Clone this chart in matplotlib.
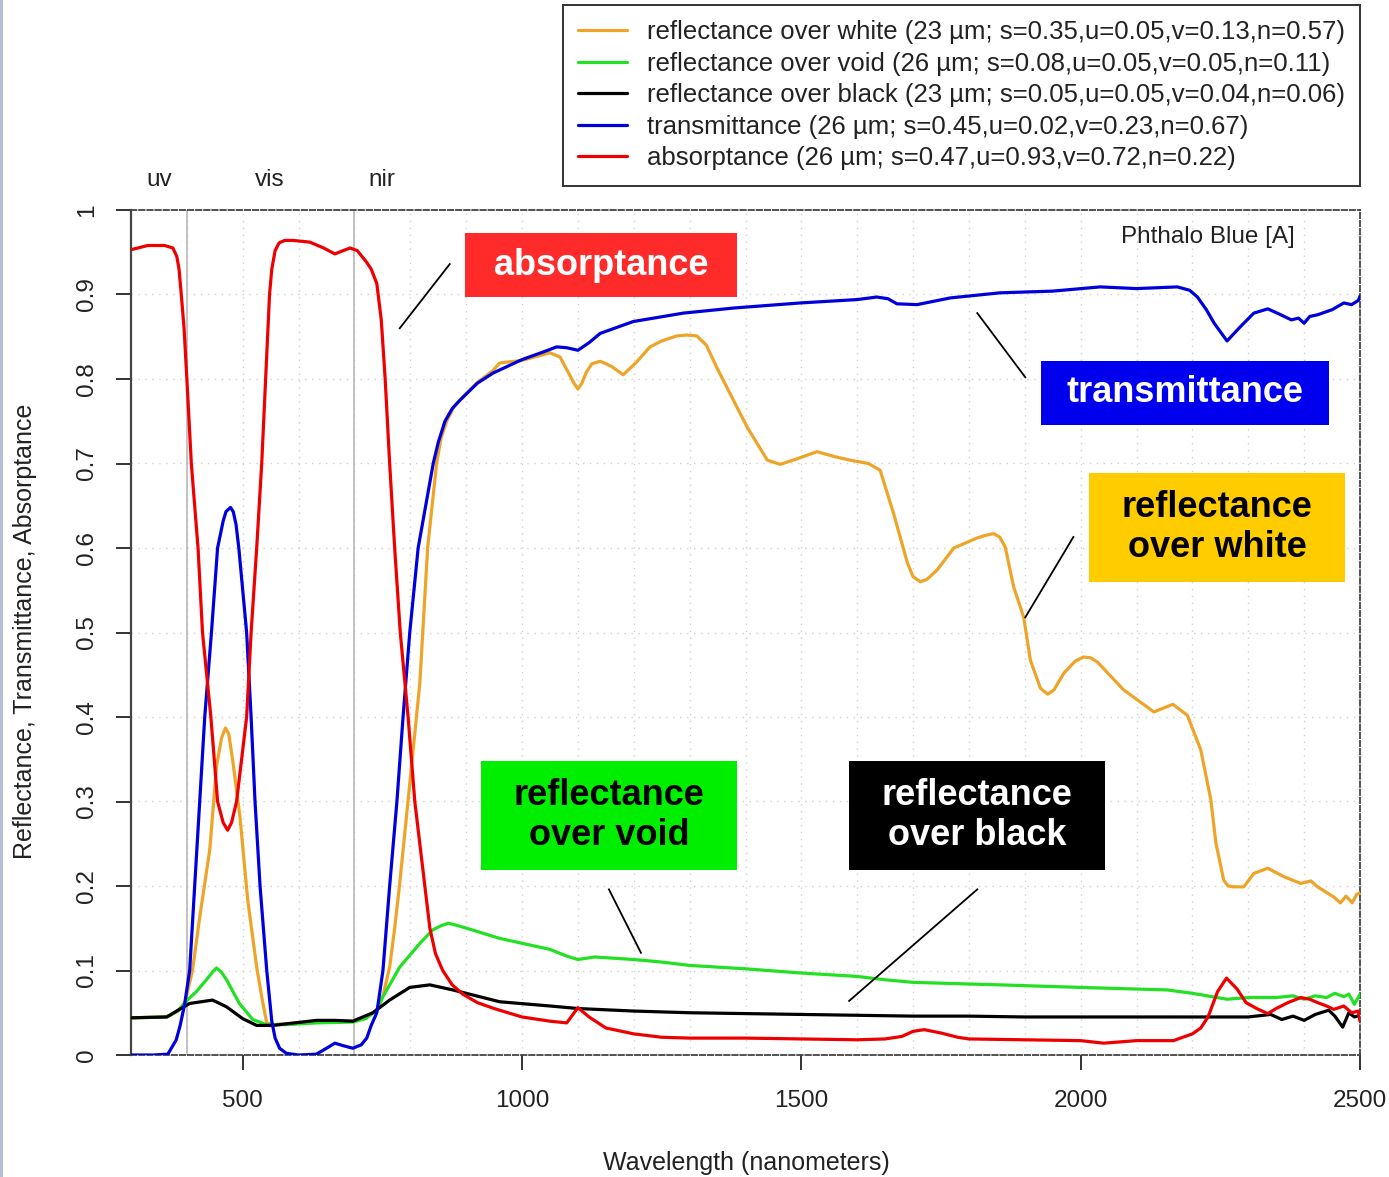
import numpy as np
from matplotlib import pyplot as plt
from matplotlib.patches import Rectangle

plt.rcParams['font.family'] = ['Liberation Sans', 'DejaVu Sans']

# reflectance over white (orange)
white_wl = [300, 364, 384, 396, 410, 423, 441, 453, 462, 469, 475, 482, 495, 509, 525, 535,
            543, 554, 600, 632, 697, 720, 740, 751, 763, 772, 781, 799, 817, 831, 847, 855,
            865, 878, 894, 920, 948, 960, 1000, 1050, 1068, 1085, 1093, 1100, 1107, 1115,
            1125, 1140, 1160, 1181, 1205, 1229, 1250, 1277, 1295, 1313, 1330, 1349, 1403,
            1439, 1462, 1490, 1528, 1560, 1587, 1620, 1641, 1665, 1690, 1700, 1713, 1725,
            1743, 1773, 1815, 1830, 1844, 1855, 1865, 1880, 1898, 1910, 1928, 1941, 1952,
            1970, 1990, 2005, 2018, 2030, 2077, 2131, 2165, 2191, 2215, 2233, 2242, 2256,
            2264, 2274, 2292, 2310, 2335, 2364, 2394, 2412, 2424, 2453, 2465, 2475, 2486,
            2494, 2500]
white_val = [0.044, 0.045, 0.052, 0.060, 0.100, 0.163, 0.243, 0.341, 0.375, 0.387, 0.380,
             0.349, 0.282, 0.183, 0.104, 0.065, 0.038, 0.036, 0.038, 0.040, 0.040, 0.045,
             0.053, 0.070, 0.104, 0.150, 0.203, 0.321, 0.440, 0.600, 0.700, 0.730, 0.750,
             0.767, 0.779, 0.796, 0.810, 0.819, 0.822, 0.831, 0.826, 0.805, 0.795, 0.788,
             0.795, 0.808, 0.818, 0.821, 0.815, 0.805, 0.820, 0.838, 0.845, 0.851, 0.852,
             0.851, 0.840, 0.813, 0.743, 0.704, 0.699, 0.705, 0.714, 0.708, 0.704, 0.700,
             0.692, 0.641, 0.582, 0.566, 0.560, 0.563, 0.574, 0.600, 0.612, 0.615, 0.617,
             0.613, 0.601, 0.554, 0.518, 0.467, 0.434, 0.427, 0.432, 0.452, 0.466, 0.471,
             0.470, 0.465, 0.432, 0.406, 0.415, 0.402, 0.361, 0.302, 0.251, 0.207, 0.200,
             0.199, 0.199, 0.215, 0.221, 0.211, 0.203, 0.206, 0.199, 0.187, 0.180, 0.188,
             0.180, 0.190, 0.192]

# reflectance over void (green)
void_wl = [300, 364, 384, 396, 417, 435, 447, 453, 462, 471, 494, 518, 542, 580, 632, 697,
           720, 740, 751, 781, 817, 840, 855, 868, 880, 901, 960, 1050, 1080, 1100, 1130,
           1200, 1250, 1300, 1400, 1500, 1600, 1650, 1700, 1800, 1856, 1950, 2050, 2155,
           2200, 2262, 2300, 2350, 2380, 2400, 2420, 2440, 2455, 2471, 2480, 2490, 2500]
void_val = [0.044, 0.045, 0.052, 0.062, 0.075, 0.089, 0.099, 0.103, 0.098, 0.089, 0.061,
            0.042, 0.036, 0.036, 0.038, 0.039, 0.043, 0.053, 0.069, 0.104, 0.132, 0.148,
            0.153, 0.156, 0.154, 0.150, 0.138, 0.125, 0.117, 0.113, 0.116, 0.113, 0.110,
            0.106, 0.102, 0.097, 0.093, 0.089, 0.086, 0.084, 0.083, 0.081, 0.079, 0.077,
            0.073, 0.066, 0.068, 0.068, 0.070, 0.066, 0.070, 0.068, 0.073, 0.069, 0.072,
            0.060, 0.072]

# reflectance over black (black)
black_wl = [300, 364, 384, 405, 446, 471, 500, 525, 554, 632, 665, 697, 733, 763, 799, 835,
            876, 960, 1050, 1100, 1200, 1300, 1400, 1500, 1600, 1700, 1800, 1900, 2000,
            2100, 2200, 2300, 2340, 2360, 2380, 2400, 2420, 2444, 2455, 2469, 2480, 2490, 2500]
black_val = [0.044, 0.045, 0.053, 0.061, 0.065, 0.057, 0.043, 0.035, 0.035, 0.041, 0.041,
             0.040, 0.050, 0.065, 0.080, 0.083, 0.077, 0.063, 0.058, 0.055, 0.052, 0.050,
             0.049, 0.048, 0.047, 0.046, 0.046, 0.045, 0.045, 0.045, 0.045, 0.045, 0.048,
             0.042, 0.046, 0.041, 0.048, 0.053, 0.046, 0.033, 0.050, 0.045, 0.047]

# transmittance (blue)
trans_wl = [300, 340, 366, 381, 388, 396, 405, 414, 423, 432, 444, 455, 465, 470, 478, 483,
            488, 493, 507, 515, 522, 531, 543, 552, 558, 566, 578, 600, 632, 650, 665, 680,
            697, 712, 722, 730, 740, 751, 763, 776, 787, 799, 814, 841, 850, 862, 875, 889,
            920, 948, 1000, 1038, 1062, 1080, 1100, 1120, 1140, 1199, 1289, 1379, 1498, 1600,
            1635, 1655, 1671, 1707, 1767, 1856, 1950, 2035, 2100, 2173, 2195, 2209, 2225,
            2239, 2262, 2286, 2310, 2335, 2355, 2377, 2390, 2400, 2410, 2424, 2450, 2471,
            2485, 2497, 2500]
trans_val = [0.000, 0.000, 0.001, 0.018, 0.035, 0.060, 0.100, 0.200, 0.300, 0.400, 0.500,
             0.600, 0.632, 0.643, 0.648, 0.643, 0.628, 0.600, 0.500, 0.400, 0.300, 0.200,
             0.100, 0.040, 0.020, 0.008, 0.002, 0.000, 0.001, 0.008, 0.014, 0.011, 0.008,
             0.012, 0.020, 0.035, 0.050, 0.100, 0.200, 0.300, 0.400, 0.500, 0.600, 0.700,
             0.725, 0.750, 0.765, 0.775, 0.795, 0.807, 0.823, 0.832, 0.838, 0.837, 0.834,
             0.843, 0.854, 0.868, 0.878, 0.884, 0.890, 0.894, 0.897, 0.895, 0.889, 0.888,
             0.896, 0.902, 0.904, 0.909, 0.907, 0.909, 0.905, 0.897, 0.882, 0.866, 0.845,
             0.862, 0.878, 0.883, 0.877, 0.870, 0.872, 0.866, 0.874, 0.876, 0.882, 0.890,
             0.888, 0.893, 0.898]

# absorptance (red)
absorp_wl = [300, 330, 360, 375, 382, 386, 390, 395, 400, 408, 420, 428, 443, 455, 465, 473,
             480, 489, 498, 507, 515, 525, 534, 541, 548, 552, 558, 565, 575, 590, 620, 645,
             665, 680, 692, 705, 722, 730, 740, 748, 755, 763, 772, 782, 796, 808, 826, 835,
             845, 858, 875, 894, 920, 950, 1000, 1050, 1080, 1100, 1120, 1150, 1200, 1250,
             1300, 1400, 1500, 1600, 1650, 1680, 1700, 1720, 1750, 1780, 1800, 1900, 2000,
             2041, 2100, 2166, 2200, 2215, 2228, 2245, 2261, 2280, 2296, 2315, 2335, 2350,
             2371, 2394, 2410, 2424, 2440, 2453, 2471, 2485, 2497, 2500]
absorp_val = [0.953, 0.958, 0.958, 0.955, 0.945, 0.930, 0.900, 0.860, 0.800, 0.700, 0.600,
              0.500, 0.400, 0.300, 0.275, 0.266, 0.275, 0.300, 0.350, 0.400, 0.500, 0.600,
              0.700, 0.800, 0.900, 0.930, 0.952, 0.961, 0.964, 0.964, 0.962, 0.955, 0.948,
              0.952, 0.955, 0.952, 0.938, 0.930, 0.913, 0.870, 0.800, 0.700, 0.600, 0.500,
              0.400, 0.300, 0.200, 0.150, 0.120, 0.100, 0.083, 0.072, 0.062, 0.055, 0.045,
              0.040, 0.038, 0.056, 0.045, 0.032, 0.025, 0.021, 0.020, 0.020, 0.019, 0.018,
              0.019, 0.022, 0.028, 0.030, 0.026, 0.021, 0.019, 0.018, 0.017, 0.014, 0.017,
              0.017, 0.025, 0.032, 0.045, 0.075, 0.091, 0.078, 0.062, 0.055, 0.049, 0.055,
              0.062, 0.068, 0.066, 0.062, 0.058, 0.054, 0.058, 0.050, 0.052, 0.040]

labels = ['reflectance over white (23 µm; s=0.35,u=0.05,v=0.13,n=0.57)',
          'reflectance over void (26 µm; s=0.08,u=0.05,v=0.05,n=0.11)',
          'reflectance over black (23 µm; s=0.05,u=0.05,v=0.04,n=0.06)',
          'transmittance (26 µm; s=0.45,u=0.02,v=0.23,n=0.67)',
          'absorptance (26 µm; s=0.47,u=0.93,v=0.72,n=0.22)']
colors = ['#EEA428', '#22E022', '#000000', '#0000DD', '#EE0000']

W, H = 1389, 1177
fig = plt.figure(figsize=(W / 100, H / 100), dpi=100)
ax = fig.add_axes([131 / W, 1 - 1055 / H, (1360 - 131) / W, (1055 - 210) / H])

# light dotted grid and the uv/vis/nir boundaries
for xg in range(400, 2500, 100):
    ax.axvline(xg, color='#d0d0d0', lw=1, ls=(0, (1, 4)), zorder=0)
for yg in np.arange(0.1, 1.0, 0.1):
    ax.axhline(yg, color='#d0d0d0', lw=1, ls=(0, (1, 4)), zorder=0)
for xb in [400, 700]:
    ax.axvline(xb, color='#b8b8b8', lw=1.2, zorder=1)

series = [(white_wl, white_val), (void_wl, void_val), (black_wl, black_val),
          (trans_wl, trans_val), (absorp_wl, absorp_val)]
handles = []
for (wl, val), lab, col in zip(series, labels, colors):
    h, = ax.plot(wl, val, color=col, lw=2.3, label=lab, zorder=3,
                 solid_joinstyle='round', solid_capstyle='round')
    handles.append(h)

ax.set_xlim(300, 2500)
ax.set_ylim(0, 1)
ax.set_xticks([500, 1000, 1500, 2000, 2500])
ax.set_yticks(np.round(np.arange(0, 1.01, 0.1), 1))
ax.set_yticklabels(['0', '0.1', '0.2', '0.3', '0.4', '0.5', '0.6', '0.7', '0.8', '0.9', '1'],
                   rotation=90, va='center')
ax.tick_params(axis='both', direction='out', length=11, width=1.4, color='#333333',
               labelsize=17.5, labelcolor='#222222')
ax.tick_params(axis='x', pad=14)
ax.tick_params(axis='y', pad=13)

for side in ['top', 'right', 'bottom']:
    ax.spines[side].set_linestyle((0, (3, 1.5)))
    ax.spines[side].set_color('#444444')
    ax.spines[side].set_linewidth(1.3)
ax.spines['left'].set_color('#444444')
ax.spines['left'].set_linewidth(1.6)

# region labels above the plot
for xr, txt in [(350, 'uv'), (548, 'vis'), (749, 'nir')]:
    ax.text(xr, 1.0355, txt, ha='center', va='center', fontsize=17.5, color='#222222',
            clip_on=False)

ax.text(2227, 0.968, 'Phthalo Blue [A]', ha='center', va='center', fontsize=17.5,
        color='#222222')

# coloured callout boxes with pointer lines
boxes = [
    ((897.6, 0.897), 1384.9 - 897.6, 0.9728 - 0.897, '#FF2A2A', 'absorptance', 'white',
     [(781, 0.860), (870.6, 0.936)]),
    ((1929.5, 0.7456), 2445.4 - 1929.5, 0.8213 - 0.7456, '#0000EE', 'transmittance', 'white',
     [(1814.9, 0.878), (1900.9, 0.802)]),
    ((2015.5, 0.5598), 2474 - 2015.5, 0.6888 - 0.5598, '#FFCC00', 'reflectance\nover white',
     'black', [(1900.9, 0.518), (1986.9, 0.613)]),
    ((926.3, 0.2189), 1384.9 - 926.3, 0.3479 - 0.2189, '#00EE00', 'reflectance\nover void',
     'black', [(1155.5, 0.196), (1212.8, 0.121)]),
    ((1585.5, 0.2189), 2044 - 1585.5, 0.3479 - 0.2189, '#000000', 'reflectance\nover black',
     'white', [(1585.5, 0.064), (1814.9, 0.196)]),
]
for (x0, y0), bw, bh, fc, txt, tc, line in boxes:
    ax.add_patch(Rectangle((x0, y0), bw, bh, facecolor=fc, edgecolor='none', zorder=4))
    ax.text(x0 + bw / 2, y0 + bh / 2, txt, ha='center', va='center', fontsize=26,
            fontweight='bold', color=tc, zorder=5, linespacing=1.2)
    ax.plot([line[0][0], line[1][0]], [line[0][1], line[1][1]], color='black', lw=1.3,
            zorder=4)

leg = fig.legend(handles=handles, loc='upper right', bbox_to_anchor=(1360 / W, 1 - 5 / H),
                 borderaxespad=0, fontsize=18.5, fancybox=False, framealpha=1,
                 edgecolor='#333333', handlelength=1.9, handletextpad=0.75,
                 labelspacing=0.29, borderpad=0.6)
leg.get_frame().set_linewidth(1.4)
for t in leg.get_texts():
    t.set_color('#222222')

fig.text(746 / W, 1 - 1163 / H, 'Wavelength (nanometers)', ha='center', va='center',
         fontsize=18, color='#222222')
fig.text(25 / W, 1 - 631 / H, 'Reflectance, Transmittance, Absorptance', ha='center',
         va='center', rotation=90, fontsize=18, color='#222222')

# thin bluish strip at the left edge of the original screenshot
fig.add_artist(Rectangle((0, 0), 3 / W, 1, transform=fig.transFigure,
                         facecolor='#b4c0d0', edgecolor='none'))

fig.savefig('out.png', dpi=100)
